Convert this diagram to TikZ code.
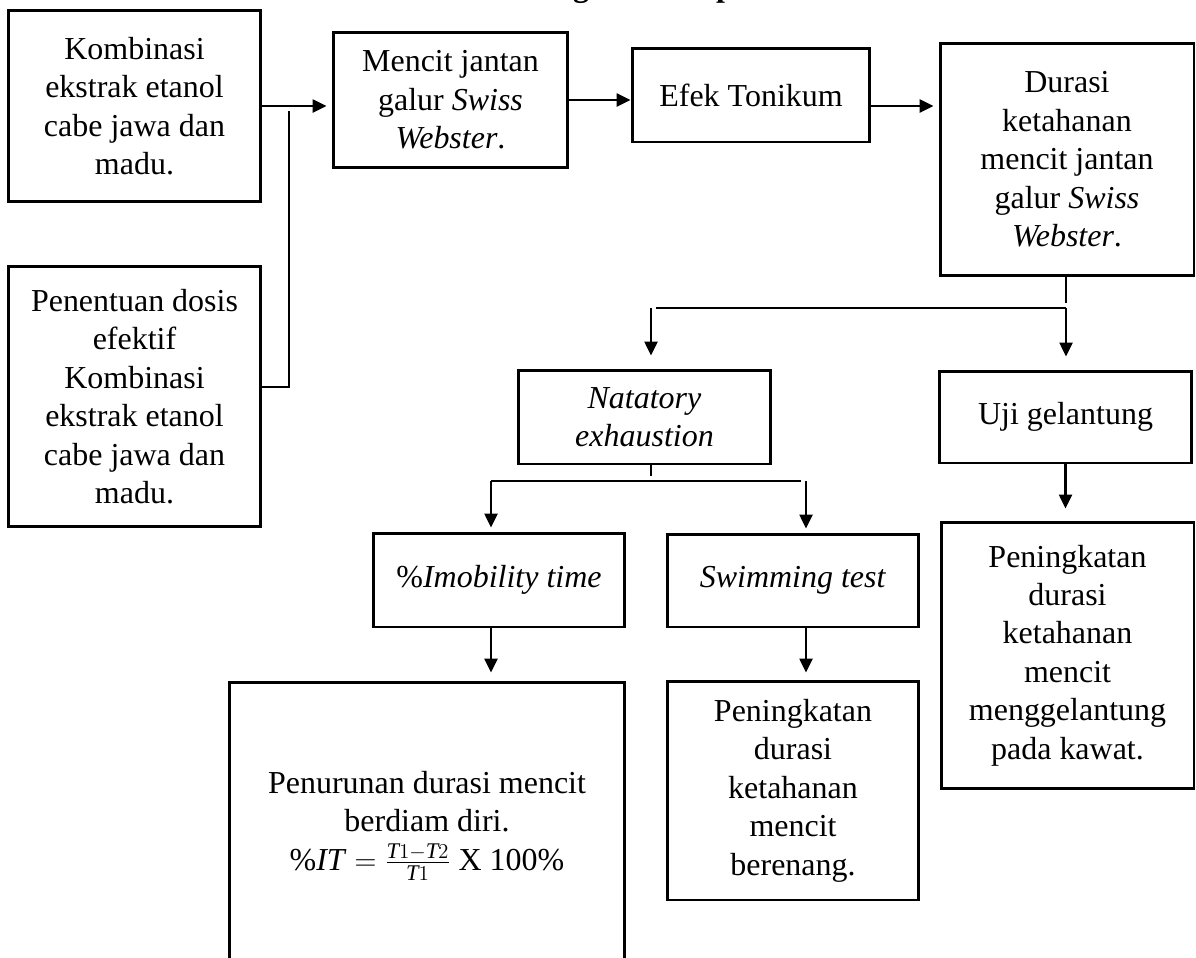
\documentclass[tikz,border=0pt]{standalone}
\usepackage{fontspec}
\setmainfont{Liberation Serif}
\usepackage{tikz}
\usetikzlibrary{arrows.meta, positioning}

\begin{document}
\begin{tikzpicture}[
            x = 0.02cm, y = -0.02cm, % one unit is one pixel of the page
            > = {Triangle[length=0.28cm, width=0.26cm]}, % arrow head style
            shorten > = 0.1cm, % small gap before the box
            font = \fontsize{18.2}{21.9}\selectfont
        ]

        \tikzstyle{box}=[
            draw = black,
            line width = 1.7pt,
            align = center,
            inner sep = 0pt
        ]
        \tikzstyle{thin line}=[line width = 0.8pt]
        \tikzstyle{flow}=[->, line width = 1.4pt]

        \useasboundingbox (0,0) rectangle (1196,957);

        \node[font=\fontsize{18.2}{21.9}\selectfont\bfseries, anchor=base] (title) at (610,-4) {Kerangka Konsep};

        \node[box, minimum width=5.06cm, minimum height=3.84cm] (komb) at (134.5,106) {Kombinasi\\ekstrak etanol\\cabe jawa dan\\madu.};
        \node[box, minimum width=5.06cm, minimum height=5.22cm] (dosis) at (134.5,396.5) {Penentuan dosis\\efektif\\Kombinasi\\ekstrak etanol\\cabe jawa dan\\madu.};
        \node[box, minimum width=4.7cm, minimum height=2.72cm] (mencit) at (450.5,100) {Mencit jantan\\galur \textit{Swiss}\\\textit{Webster}.};
        \node[box, minimum width=4.76cm, minimum height=1.88cm] (efek) at (751,95) {Efek Tonikum};
        \node[box, minimum width=5.08cm, minimum height=4.66cm] (durasi) at (1067,159.5) {Durasi\\ketahanan\\mencit jantan\\galur \textit{Swiss}\\\textit{Webster}.};
        \node[box, minimum width=5.06cm, minimum height=1.88cm] (natatory) at (644.5,417) {\textit{Natatory}\\\textit{exhaustion}};
        \node[box, minimum width=5.06cm, minimum height=1.84cm] (uji) at (1065.5,417) {Uji gelantung};
        \node[box, minimum width=5.04cm, minimum height=1.88cm] (imob) at (499,580) {\%\textit{Imobility time}};
        \node[box, minimum width=5.04cm, minimum height=1.86cm] (swim) at (793,580.5) {\textit{Swimming test}};
        \node[box, minimum width=5.06cm, minimum height=5.34cm] (naik) at (1067.5,655.5) {Peningkatan\\durasi\\ketahanan\\mencit\\menggelantung\\pada kawat.};
        \node[box, minimum width=5.04cm, minimum height=4.38cm] (renang) at (793,790.5) {Peningkatan\\durasi\\ketahanan\\mencit\\berenang.};
        \node[box, minimum width=7.92cm, minimum height=5.76cm] (turun) at (427,826) {Penurunan durasi mencit\\berdiam diri.\\\%\textit{IT} $=$ $\frac{\mathit{T}1-\mathit{T}2}{\mathit{T}1}$ X 100\%};

        \coordinate (j1) at (289,106);
        \coordinate (j2) at (1066,308);
        \coordinate (j3) at (651,481);
        \coordinate (l1) at (491,481);
        \coordinate (r1) at (806,481);

        \draw[flow] (komb.east) -- (komb.east -| mencit.west);
        \draw[thin line] ([yshift=0.19cm]dosis.east) -| (j1);
        \draw[flow, shorten > = 0pt] (mencit.east) -- (mencit.east -| efek.west);
        \draw[flow] ([yshift=-0.22cm]efek.east) -- ([yshift=-0.22cm]efek.east -| durasi.west);

        \draw[line width = 1.4pt] (j2 |- durasi.south) -- (j2);
        \draw[flow, shorten > = 0.26cm] (j2) -- (j2 |- uji.north);
        \draw[thin line] (j2) -- (j2 -| j3);
        \draw[flow, shorten > = 0.26cm] (j2 -| j3) -- (j3 |- natatory.north);
        \draw[flow, shorten > = 0.24cm] (uji.south) -- (uji.south |- naik.north);

        \draw[thin line] (j3 |- natatory.south) -- (j3);
        \draw[thin line] (l1) -- (r1);
        \draw[flow, shorten > = 0.08cm] (l1) -- (l1 |- imob.north);
        \draw[flow, shorten > = 0.08cm] (r1) -- (r1 |- swim.north);
        \draw[flow, shorten > = 0.16cm] (l1 |- imob.south) -- (l1 |- turun.north);
        \draw[flow, shorten > = 0.14cm] (r1 |- swim.south) -- (r1 |- renang.north);

  \end{tikzpicture}
\end{document}
